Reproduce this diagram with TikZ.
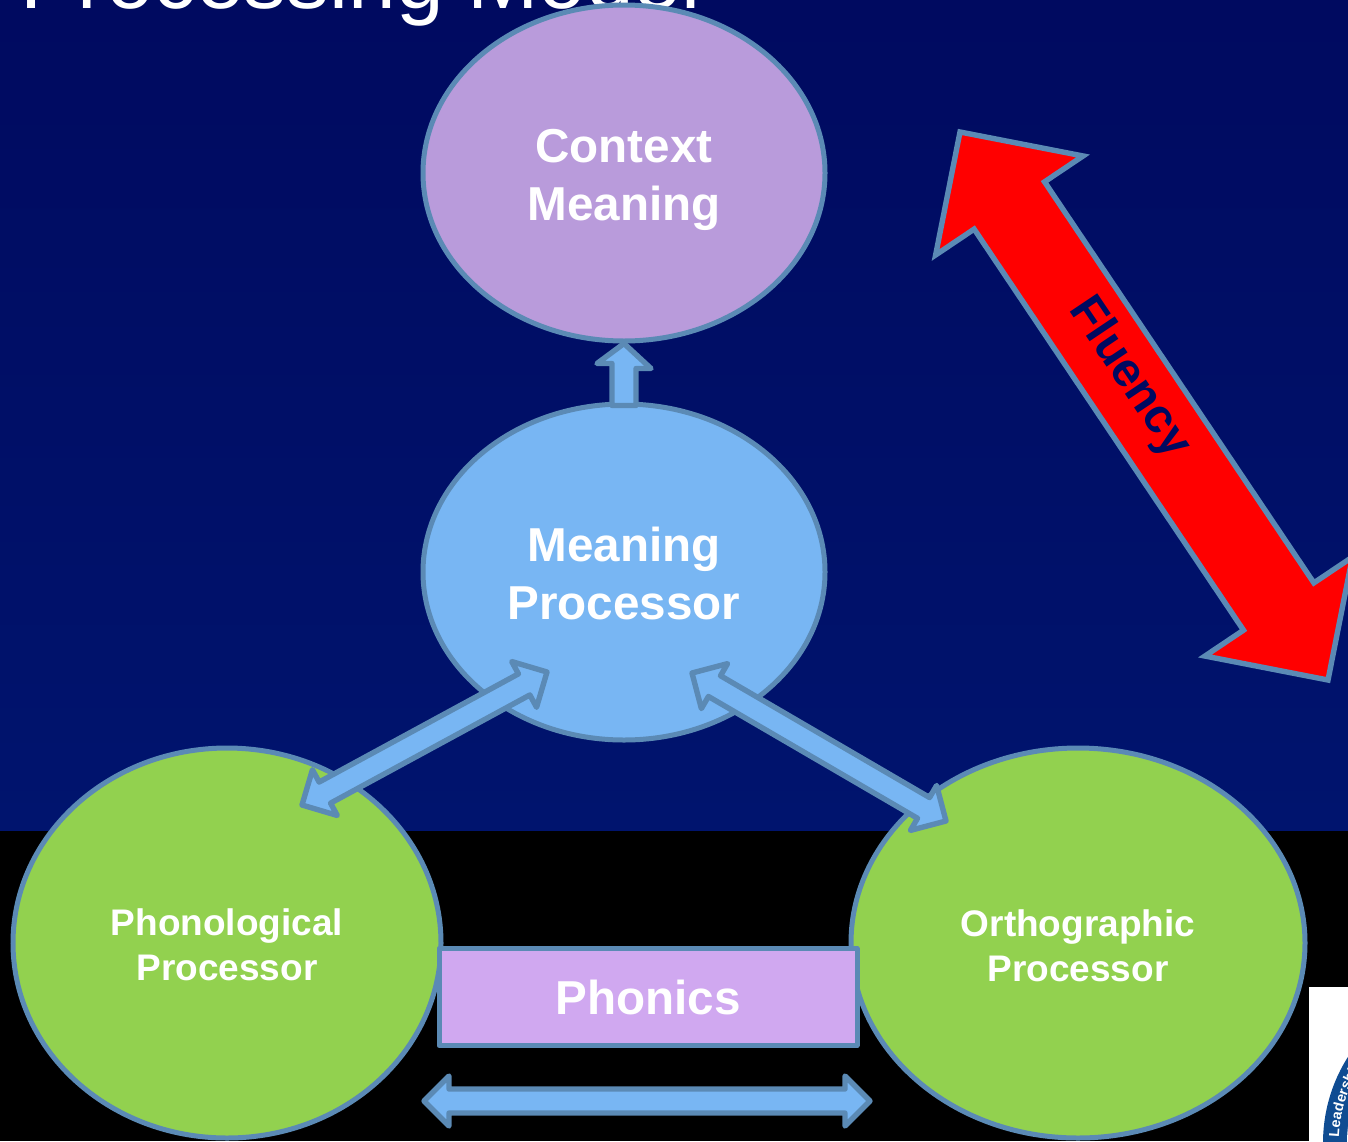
\documentclass[tikz,border=0pt]{standalone}
\usepackage{fontspec}
\setmainfont{Liberation Sans}
\usetikzlibrary{calc,shapes.geometric,decorations.text}
\definecolor{navytop}{HTML}{000A60}
\definecolor{navymid}{HTML}{00146E}
\definecolor{edgeblue}{HTML}{5B8AB5}
\definecolor{ctxpurple}{HTML}{B99BDB}
\definecolor{procblue}{HTML}{78B6F3}
\definecolor{procgreen}{HTML}{92D14F}
\definecolor{phonpurple}{HTML}{D0A8F0}
\definecolor{logoblue}{HTML}{0F4C92}
\tikzset{
  x=0.5pt,y=-0.5pt,
  bubble/.style={draw=edgeblue,line width=2.5pt,ellipse,inner sep=0pt,align=center,text=white},
  bigtext/.style={font=\bfseries\fontsize{23.8}{29}\selectfont},
  smalltext/.style={font=\bfseries\fontsize{18.5}{22.5}\selectfont},
  blockarrow/.style={draw=edgeblue,fill=procblue,line width=2.7pt,line join=round},
  redarrow/.style={draw=edgeblue,fill=red,line width=2.7pt,line join=miter},
}
% double-headed block arrow between two named coordinates:
% style, a, b, shaft half, head half, head length (in pt)
\newcommand{\dblblock}[6]{%
  \coordinate (p1) at ($(#2)!#6!(#3)$);
  \coordinate (p2) at ($(#3)!#6!(#2)$);
  \draw[#1] (#2)
    -- ($(p1)!#5!90:(#3)$) -- ($(p1)!#4!90:(#3)$)
    -- ($(p2)!#4!-90:(#2)$) -- ($(p2)!#5!-90:(#2)$)
    -- (#3)
    -- ($(p2)!#5!90:(#2)$) -- ($(p2)!#4!90:(#2)$)
    -- ($(p1)!#4!-90:(#3)$) -- ($(p1)!#5!-90:(#3)$)
    -- cycle;
}
\begin{document}
\begin{tikzpicture}
\useasboundingbox (0,0) rectangle (1348,1141);
% background
\shade[top color=navytop,bottom color=navymid] (0,0) rectangle (1348,832);
\fill[black] (0,831) rectangle (1348,1141);
% title, cut by the top edge
\node[anchor=base west,inner sep=0pt,text=white,font=\fontsize{42.8}{48}\selectfont] (title) at (20,8.5) {Processing Model};
% logo corner
\fill[white] (1309,987) rectangle (1348,1141);
\begin{scope}
\clip (1309,987) rectangle (1348,1141);
\fill[logoblue] (1484,1143) circle[radius=161];
\fill[white] (1484,1143) circle[radius=137];
\coordinate (logoA) at (1339,1137);
\coordinate (logoB) at (1381.5,1040.5);
\path[decorate,decoration={text along path,text={|\bfseries\fontsize{7.2}{8}\selectfont\color{white}|Leadership}}]
  (logoA) .. controls (1340.5,1100.7) and (1355.8,1066.2) .. (logoB);
\end{scope}
% bubbles
\node[bubble,fill=ctxpurple,minimum width=201pt,minimum height=168pt,bigtext] (context) at (624,173) {\rule{0pt}{23.4pt}Context\\Meaning};
\node[bubble,fill=procblue,minimum width=201pt,minimum height=168pt,bigtext] (meaning) at (624,572) {\rule{0pt}{18.4pt}Meaning\\Processor};
\node[bubble,fill=procgreen,minimum width=214pt,minimum height=195pt,smalltext] (phono) at (227,943) {\rule{0pt}{15.5pt}Phonological\\Processor};
\node[bubble,fill=procgreen,minimum width=227pt,minimum height=195pt,smalltext] (ortho) at (1078,943) {\rule{0pt}{16.5pt}Orthographic\\Processor};
\node[draw=edgeblue,fill=phonpurple,line width=2.5pt,line join=round,minimum width=209pt,minimum height=48.5pt,inner sep=0pt,text=white,bigtext] (phonics) at (648,997) {Phonics};
% up arrow, meaning to context
\coordinate (uptip) at (context.south);
\coordinate (upbase) at ($(meaning.north)+(0,4)$);
\draw[blockarrow] (uptip) -- ++(27,25) -- ++(-15,0) -- (upbase -| 636,0) -- (upbase -| 612,0) -- ++(0,-42) -- ++(-15,0) -- cycle;
% diagonal arrows
\coordinate (leftA) at (302,805);
\coordinate (leftB) at (547,672);
\dblblock{blockarrow}{leftA}{leftB}{6pt}{13pt}{13pt}
\coordinate (rightA) at (692,673);
\coordinate (rightB) at (946,821);
\dblblock{blockarrow}{rightA}{rightB}{6pt}{13pt}{13pt}
% bottom arrow
\coordinate (botA) at (424,1101);
\coordinate (botB) at (870,1101);
\dblblock{blockarrow}{botA}{botB}{6pt}{12.5pt}{12.5pt}
% fluency arrow
\coordinate (fluA) at (960,132);
\coordinate (fluB) at (1328,680);
\dblblock{redarrow}{fluA}{fluB}{21.2pt}{44.4pt}{44.25pt}
\node[rotate=-56.1,inner sep=0pt,text=navytop,font=\bfseries\fontsize{24}{28}\selectfont] (fluency) at (1129.5,378) {Fluency};
\end{tikzpicture}
\end{document}
